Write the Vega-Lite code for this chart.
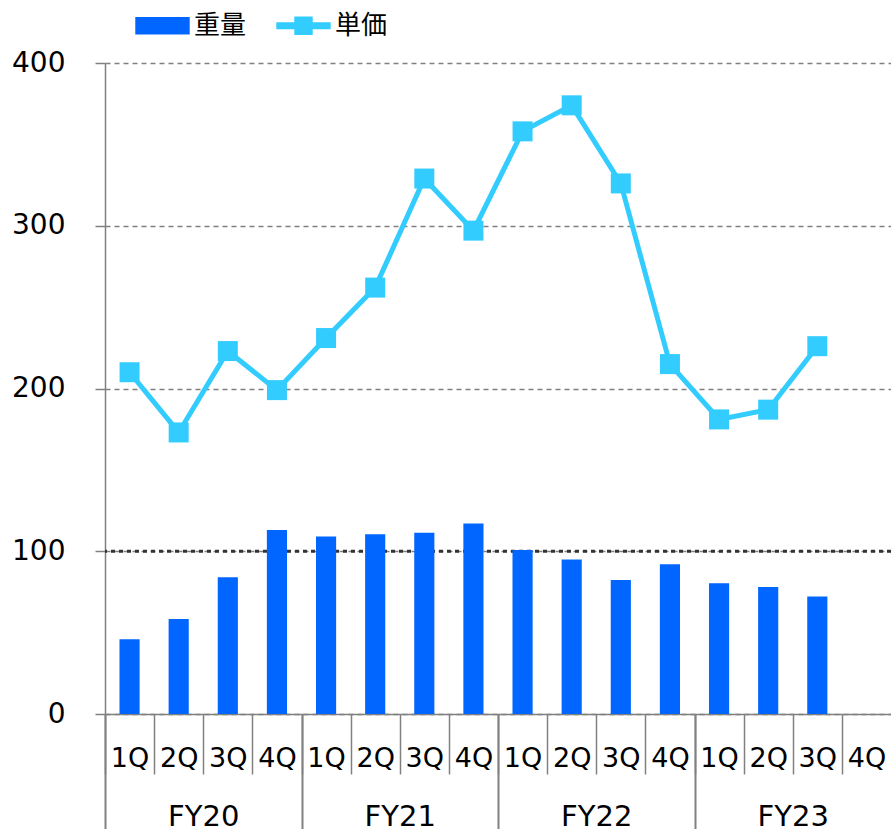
{
  "$schema": "https://vega.github.io/schema/vega-lite/v6.json",
  "width": 786,
  "height": 651,
  "autosize": {"type": "none"},
  "padding": {"left": 105, "top": 63, "right": 0, "bottom": 115},
  "background": "white",
  "config": {"view": {"stroke": null}, "font": "DejaVu Sans"},
  "datasets": {
    "main": [
      {"fy": "FY20", "period": "FY20 1Q", "weight": 46, "price": 210},
      {"fy": "FY20", "period": "FY20 2Q", "weight": 58.4, "price": 173},
      {"fy": "FY20", "period": "FY20 3Q", "weight": 84, "price": 223},
      {"fy": "FY20", "period": "FY20 4Q", "weight": 113, "price": 199},
      {"fy": "FY21", "period": "FY21 1Q", "weight": 109, "price": 231},
      {"fy": "FY21", "period": "FY21 2Q", "weight": 110.4, "price": 262},
      {"fy": "FY21", "period": "FY21 3Q", "weight": 111.4, "price": 329},
      {"fy": "FY21", "period": "FY21 4Q", "weight": 117, "price": 297},
      {"fy": "FY22", "period": "FY22 1Q", "weight": 100.8, "price": 358},
      {"fy": "FY22", "period": "FY22 2Q", "weight": 95, "price": 374},
      {"fy": "FY22", "period": "FY22 3Q", "weight": 82.3, "price": 326},
      {"fy": "FY22", "period": "FY22 4Q", "weight": 92, "price": 215},
      {"fy": "FY23", "period": "FY23 1Q", "weight": 80.3, "price": 181},
      {"fy": "FY23", "period": "FY23 2Q", "weight": 78, "price": 187},
      {"fy": "FY23", "period": "FY23 3Q", "weight": 72.2, "price": 226},
      {"fy": "FY23", "period": "FY23 4Q", "weight": null, "price": null}
    ],
    "ref": [{"level": 100}]
  },
  "layer": [
    {
      "layer": [
        {
          "data": {"name": "ref"},
          "mark": {"type": "rule", "color": "#333333", "strokeWidth": 3, "strokeDash": [4, 4]},
          "encoding": {"y": {"field": "level", "type": "quantitative", "axis": {"title": null}}}
        },
        {
          "data": {"name": "main"},
          "mark": {"type": "bar", "width": {"band": 0.41}},
          "encoding": {
            "x": {
              "field": "period", "type": "nominal", "sort": null,
              "scale": {"type": "band", "paddingInner": 0, "paddingOuter": 0,
                "domain": ["FY20 1Q","FY20 2Q","FY20 3Q","FY20 4Q","FY21 1Q","FY21 2Q","FY21 3Q","FY21 4Q","FY22 1Q","FY22 2Q","FY22 3Q","FY22 4Q","FY23 1Q","FY23 2Q","FY23 3Q","FY23 4Q"]},
              "axis": {"title": null, "labelExpr": "split(datum.label, ' ')[1]", "labelAngle": 0, "tickBand": "extent",
                "tickSize": 60, "tickColor": "#808080", "tickWidth": 1.5, "domainColor": "#808080", "domainWidth": 1.5,
                "labelFontSize": 27, "labelColor": "#000000", "labelPadding": -29, "grid": false, "labelFont": "DejaVu Sans",
                "tickOpacity": {"condition": {"test": "datum.index === 1", "value": 0}, "value": 1}}
            },
            "y": {
              "field": "weight", "type": "quantitative",
              "scale": {"domain": [0, 400], "nice": false},
              "axis": {"title": null, "values": [0, 100, 200, 300, 400], "grid": true, "gridColor": "#808080", "gridDash": [5, 4], "gridWidth": 1.5,
                "domainColor": "#808080", "domainWidth": 1.5, "tickColor": "#808080", "tickSize": 10, "tickWidth": 1.5,
                "labelFontSize": 28, "labelColor": "#000000", "labelPadding": 30, "labelFont": "DejaVu Sans"}
            },
            "color": {
              "datum": "重量", "type": "nominal",
              "scale": {"domain": ["重量", "単価"], "range": ["#0066FF", "#33CCFF"]},
              "legend": {
                "title": null, "orient": "none", "legendX": 30, "legendY": -65, "direction": "horizontal",
                "symbolSize": 2800, "labelFontSize": 26, "labelFont": "Noto Sans CJK JP", "labelColor": "#000000",
                "labelOffset": 4, "columnPadding": 27, "padding": 0,
                "encode": {
                  "symbols": {
                    "update": {
                      "shape": {"signal": "datum.value === '重量' ? 'M-1,-0.3H1V0.3H-1Z' : 'M-1,-0.1H-0.32V-0.32H0.32V-0.1H1V0.1H0.32V0.32H-0.32V0.1H-1Z'"},
                      "fill": {"signal": "datum.value === '重量' ? '#0066FF' : '#33CCFF'"},
                      "stroke": {"value": "transparent"},
                      "opacity": {"value": 1},
                      "fillOpacity": {"value": 1}
                    }
                  }
                }
              }
            }
          }
        },
        {
          "data": {"name": "main"},
          "mark": {"type": "line", "strokeWidth": 5},
          "encoding": {
            "x": {"field": "period", "type": "nominal", "sort": null},
            "y": {"field": "price", "type": "quantitative", "axis": {"title": null}},
            "color": {"datum": "単価", "type": "nominal"}
          }
        },
        {
          "data": {"name": "main"},
          "mark": {"type": "point", "shape": "square", "filled": true, "size": 400, "opacity": 1},
          "encoding": {
            "x": {"field": "period", "type": "nominal", "sort": null},
            "y": {"field": "price", "type": "quantitative", "axis": {"title": null}},
            "color": {"datum": "単価", "type": "nominal"}
          }
        }
      ]
    },
    {
      "data": {"name": "main"},
      "mark": {"type": "point", "opacity": 0},
      "encoding": {
        "x": {
          "field": "fy", "type": "nominal", "sort": null,
          "scale": {"type": "band", "paddingInner": 0, "paddingOuter": 0},
          "axis": {"title": null, "orient": "bottom", "labelAngle": 0, "tickBand": "extent", "tickSize": 115, "tickColor": "#808080", "tickWidth": 2,
            "domain": false, "grid": false, "labelFontSize": 29, "labelColor": "#000000", "labelPadding": -27, "labelFont": "DejaVu Sans",
            "tickOpacity": {"condition": {"test": "datum.index === 1", "value": 0}, "value": 1}}
        }
      }
    }
  ],
  "resolve": {"scale": {"x": "independent"}, "axis": {"x": "independent"}}
}
